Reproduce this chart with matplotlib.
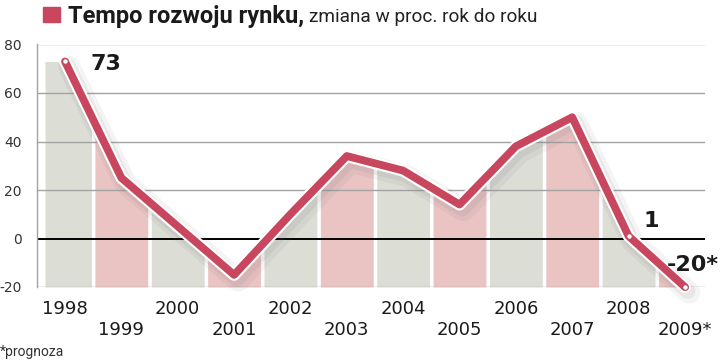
import matplotlib

matplotlib.use("Agg")
import matplotlib.pyplot as plt
import matplotlib.patheffects as pe
import numpy as np
from matplotlib import font_manager
from matplotlib.patches import Rectangle

YEARS = [1998, 1999, 2000, 2001, 2002, 2003, 2004, 2005, 2006, 2007, 2008, 2009]
YEAR_LABELS = ["1998", "1999", "2000", "2001", "2002", "2003",
               "2004", "2005", "2006", "2007", "2008", "2009*"]
GROWTH = [73, 25, 5, -15, 10, 34, 28, 14, 38, 50, 1, -20]
CALLOUTS = {1998: "73", 2008: "1", 2009: "-20*"}
DOT_YEARS = [1998, 2008, 2009]

RED = "#c8465e"
GREY_BAND = "#dcddd5"
PINK_BAND = "#eac3c3"
GRID = "#a3a3a3"
TEXT = "#1a1a1a"


def pick_font(*names):
    for n in names:
        try:
            font_manager.findfont(n, fallback_to_default=False)
            return n
        except ValueError:
            pass
    return "DejaVu Sans"


COND = pick_font("Liberation Sans Narrow", "DejaVu Sans Condensed", "Roboto")

fig = plt.figure(figsize=(7.2, 3.63), dpi=100)
fig.patch.set_facecolor("white")
W, H = 720, 363
ax = fig.add_axes([37 / W, 1 - 287 / H, 668 / W, (287 - 44.5) / H])

years = np.array(YEARS, dtype=float)
vals = np.array(GROWTH, dtype=float)
ymin, ymax = -20, 80
ax.set_xlim(1997.503, 2009.356)
ax.set_ylim(ymin, ymax)

# alternating bands filled up to the line
gap = 0.031
for i, yr in enumerate(years):
    lo = yr - 0.5 + gap
    hi = yr + 0.5 - gap
    if i == 0:
        lo = 1997.645
    xs = np.linspace(lo, hi, 60)
    ys = np.interp(xs, years, vals)
    ax.fill_between(xs, ymin, ys, color=GREY_BAND if i % 2 == 0 else PINK_BAND,
                    linewidth=0, zorder=1)

# grid
for yv in [20, 40, 60, 80, -20]:
    ax.axhline(yv, color=GRID, lw=1.0, zorder=2)
ax.axhline(0, color="black", lw=1.4, zorder=2)

ax.spines[["top", "right", "bottom"]].set_visible(False)
ax.spines["left"].set_color(GRID)
ax.spines["left"].set_linewidth(1.0)

# main line with white edge and soft shadow
ax.plot(
    years, vals, color=RED, lw=5.6, solid_joinstyle="round",
    solid_capstyle="round", zorder=5, clip_on=False,
    path_effects=[
        pe.SimpleLineShadow(offset=(3, -4), shadow_color="#666666", alpha=0.07,
                            linewidth=16),
        pe.SimpleLineShadow(offset=(2, -3), shadow_color="#666666", alpha=0.09,
                            linewidth=11),
        pe.Stroke(linewidth=8.6, foreground="white"),
        pe.Normal(),
    ],
)
dots = [YEARS.index(y) for y in DOT_YEARS]
ax.plot(years[dots], vals[dots], "o", ms=4, mfc="white", mec=RED, mew=0.8,
        zorder=6, clip_on=False)

# value callouts
offs = {1998: (25, -3), 2008: (15, 15), 2009: (8, 22)}
for yr, txt in CALLOUTS.items():
    v = vals[YEARS.index(yr)]
    ax.annotate(txt, (yr, v), xytext=offs[yr], textcoords="offset pixels",
                ha="left" if yr != 2009 else "center", va="center",
                fontsize=16, fontweight="bold", color=TEXT, family="DejaVu Sans",
                zorder=7, annotation_clip=False)

# ticks
ax.set_yticks([-20, 0, 20, 40, 60, 80])
ax.set_yticklabels(["-20", "0", "20", "40", "60", "80"], fontsize=10,
                   color="#333333")
ax.set_xticks(years)
ax.set_xticklabels([l if i % 2 == 0 else "\n" + l for i, l in enumerate(YEAR_LABELS)],
                   fontsize=13, color=TEXT, linespacing=1.25)
ax.tick_params(axis="y", length=0, pad=11)
ax.tick_params(axis="x", length=0, pad=9)

# title
fig.patches.append(Rectangle((43 / W, 1 - 22 / H), 17 / W, 15 / H,
                             transform=fig.transFigure, color=RED))
t1 = fig.text(68 / W, 1 - 22.5 / H, "Tempo rozwoju rynku,", fontsize=17,
              fontweight="bold", family=COND, color=TEXT, va="baseline")
ax.annotate("zmiana w proc. rok do roku", xy=(1, 1 - 22.5 / H),
            xycoords=(t1, "figure fraction"), xytext=(5, 0),
            textcoords="offset pixels", va="baseline", ha="left",
            fontsize=13.7, family=COND, color="#222222", annotation_clip=False)

fig.text(0, 1 - 356 / H, "*prognoza", fontsize=10, family=COND, color="#333333",
         va="baseline")

plt.savefig("out.png", dpi=100, facecolor="white")
